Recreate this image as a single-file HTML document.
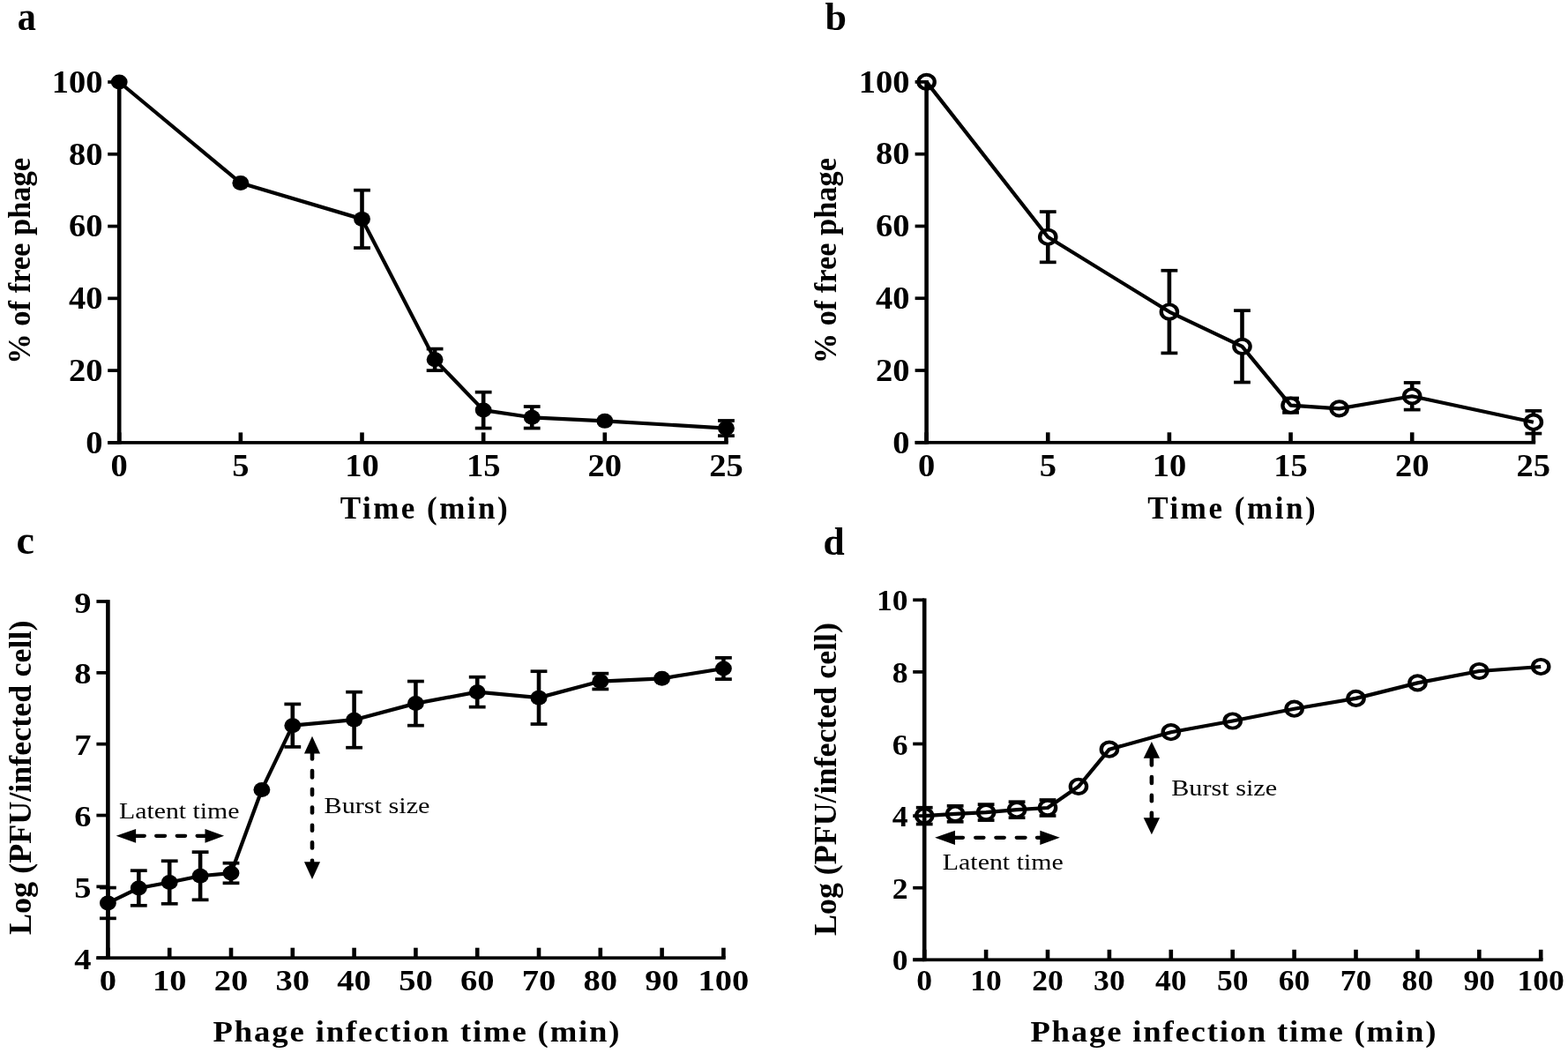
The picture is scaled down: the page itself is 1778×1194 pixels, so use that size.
<!DOCTYPE html>
<html><head><meta charset="utf-8"><title>Phage adsorption and one-step growth curves</title>
<style>
html,body{margin:0;padding:0;background:#fff;}
body{width:1778px;height:1194px;overflow:hidden;}
svg{display:block;}
text{font-family:'Liberation Serif','Times New Roman',serif;fill:#000;}
</style></head>
<body>
<svg width="1778" height="1194" viewBox="0 0 1778 1194">
<rect width="1778" height="1194" fill="#fff"/>
<g fill="#000">
<rect x="408.20" y="215.67" width="4.60" height="65.42"/>
<rect x="401.10" y="213.82" width="18.80" height="3.70"/>
<rect x="401.10" y="279.24" width="18.80" height="3.70"/>
<rect x="490.79" y="395.59" width="4.60" height="24.53"/>
<rect x="483.69" y="393.74" width="18.80" height="3.70"/>
<rect x="483.69" y="418.27" width="18.80" height="3.70"/>
<rect x="545.85" y="444.65" width="4.60" height="40.89"/>
<rect x="538.75" y="442.80" width="18.80" height="3.70"/>
<rect x="538.75" y="483.69" width="18.80" height="3.70"/>
<rect x="600.91" y="461.01" width="4.60" height="24.53"/>
<rect x="593.81" y="459.16" width="18.80" height="3.70"/>
<rect x="593.81" y="483.69" width="18.80" height="3.70"/>
<rect x="821.15" y="476.96" width="4.60" height="17.17"/>
<rect x="814.05" y="475.11" width="18.80" height="3.70"/>
<rect x="814.05" y="492.28" width="18.80" height="3.70"/>
<polyline points="135.20,93.00 272.85,207.49 410.50,248.38 493.09,407.85 548.15,465.10 603.21,473.28 685.80,477.37 823.45,485.54" fill="none" stroke="#000" stroke-width="4.2" stroke-linejoin="round"/>
<ellipse cx="135.20" cy="93.00" rx="9.45" ry="8.5"/>
<ellipse cx="272.85" cy="207.49" rx="9.45" ry="8.5"/>
<ellipse cx="410.50" cy="248.38" rx="9.45" ry="8.5"/>
<ellipse cx="493.09" cy="407.85" rx="9.45" ry="8.5"/>
<ellipse cx="548.15" cy="465.10" rx="9.45" ry="8.5"/>
<ellipse cx="603.21" cy="473.28" rx="9.45" ry="8.5"/>
<ellipse cx="685.80" cy="477.37" rx="9.45" ry="8.5"/>
<ellipse cx="823.45" cy="485.54" rx="9.45" ry="8.5"/>
<rect x="1185.95" y="240.10" width="4.60" height="57.25"/>
<rect x="1178.85" y="238.25" width="18.80" height="3.70"/>
<rect x="1178.85" y="295.50" width="18.80" height="3.70"/>
<rect x="1323.60" y="306.75" width="4.60" height="93.64"/>
<rect x="1316.50" y="304.90" width="18.80" height="3.70"/>
<rect x="1316.50" y="398.54" width="18.80" height="3.70"/>
<rect x="1406.19" y="352.14" width="4.60" height="81.37"/>
<rect x="1399.09" y="350.29" width="18.80" height="3.70"/>
<rect x="1399.09" y="431.66" width="18.80" height="3.70"/>
<rect x="1461.25" y="451.51" width="4.60" height="16.36"/>
<rect x="1454.15" y="449.66" width="18.80" height="3.70"/>
<rect x="1454.15" y="466.01" width="18.80" height="3.70"/>
<rect x="1598.90" y="433.92" width="4.60" height="30.67"/>
<rect x="1591.80" y="432.07" width="18.80" height="3.70"/>
<rect x="1591.80" y="462.74" width="18.80" height="3.70"/>
<rect x="1736.55" y="465.82" width="4.60" height="25.76"/>
<rect x="1729.45" y="463.97" width="18.80" height="3.70"/>
<rect x="1729.45" y="489.73" width="18.80" height="3.70"/>
<g transform="translate(1050.60 92.90) scale(1.12 1)"><circle r="8.15" fill="#fff" stroke="#000" stroke-width="3.9"/></g>
<g transform="translate(1188.25 268.73) scale(1.12 1)"><circle r="8.15" fill="#fff" stroke="#000" stroke-width="3.9"/></g>
<g transform="translate(1325.90 353.57) scale(1.12 1)"><circle r="8.15" fill="#fff" stroke="#000" stroke-width="3.9"/></g>
<g transform="translate(1408.49 392.83) scale(1.12 1)"><circle r="8.15" fill="#fff" stroke="#000" stroke-width="3.9"/></g>
<g transform="translate(1463.55 459.68) scale(1.12 1)"><circle r="8.15" fill="#fff" stroke="#000" stroke-width="3.9"/></g>
<g transform="translate(1518.61 463.36) scale(1.12 1)"><circle r="8.15" fill="#fff" stroke="#000" stroke-width="3.9"/></g>
<g transform="translate(1601.20 449.26) scale(1.12 1)"><circle r="8.15" fill="#fff" stroke="#000" stroke-width="3.9"/></g>
<g transform="translate(1738.85 478.70) scale(1.12 1)"><circle r="8.15" fill="#fff" stroke="#000" stroke-width="3.9"/></g>
<polyline points="1050.60,92.90 1188.25,268.73 1325.90,353.57 1408.49,392.83 1463.55,459.68 1518.61,463.36 1601.20,449.26 1738.85,478.70" fill="none" stroke="#000" stroke-width="4.2" stroke-linejoin="round"/>
<rect x="120.10" y="1006.57" width="4.60" height="34.76"/>
<rect x="113.00" y="1004.72" width="18.80" height="3.70"/>
<rect x="113.00" y="1039.48" width="18.80" height="3.70"/>
<rect x="155.00" y="987.17" width="4.60" height="39.61"/>
<rect x="147.90" y="985.32" width="18.80" height="3.70"/>
<rect x="147.90" y="1024.93" width="18.80" height="3.70"/>
<rect x="189.90" y="976.26" width="4.60" height="48.50"/>
<rect x="182.80" y="974.41" width="18.80" height="3.70"/>
<rect x="182.80" y="1022.91" width="18.80" height="3.70"/>
<rect x="224.80" y="966.15" width="4.60" height="54.16"/>
<rect x="217.70" y="964.30" width="18.80" height="3.70"/>
<rect x="217.70" y="1018.47" width="18.80" height="3.70"/>
<rect x="259.70" y="978.68" width="4.60" height="22.64"/>
<rect x="252.60" y="976.83" width="18.80" height="3.70"/>
<rect x="252.60" y="999.47" width="18.80" height="3.70"/>
<rect x="329.50" y="798.41" width="4.60" height="48.50"/>
<rect x="322.40" y="796.56" width="18.80" height="3.70"/>
<rect x="322.40" y="845.06" width="18.80" height="3.70"/>
<rect x="399.30" y="784.67" width="4.60" height="63.06"/>
<rect x="392.20" y="782.82" width="18.80" height="3.70"/>
<rect x="392.20" y="845.87" width="18.80" height="3.70"/>
<rect x="469.10" y="772.54" width="4.60" height="50.12"/>
<rect x="462.00" y="770.69" width="18.80" height="3.70"/>
<rect x="462.00" y="820.81" width="18.80" height="3.70"/>
<rect x="538.90" y="767.69" width="4.60" height="33.95"/>
<rect x="531.80" y="765.84" width="18.80" height="3.70"/>
<rect x="531.80" y="799.79" width="18.80" height="3.70"/>
<rect x="608.70" y="761.22" width="4.60" height="59.82"/>
<rect x="601.60" y="759.37" width="18.80" height="3.70"/>
<rect x="601.60" y="819.19" width="18.80" height="3.70"/>
<rect x="678.50" y="763.65" width="4.60" height="17.78"/>
<rect x="671.40" y="761.80" width="18.80" height="3.70"/>
<rect x="671.40" y="779.58" width="18.80" height="3.70"/>
<rect x="818.10" y="745.86" width="4.60" height="24.25"/>
<rect x="811.00" y="744.01" width="18.80" height="3.70"/>
<rect x="811.00" y="768.27" width="18.80" height="3.70"/>
<polyline points="122.40,1023.95 157.30,1006.98 192.20,1000.51 227.10,993.23 262.00,990.00 296.90,895.42 331.80,822.66 401.60,816.19 471.40,797.60 541.20,784.67 611.00,791.13 680.80,772.54 750.60,769.31 820.40,757.99" fill="none" stroke="#000" stroke-width="4.2" stroke-linejoin="round"/>
<ellipse cx="122.40" cy="1023.95" rx="9.45" ry="8.5"/>
<ellipse cx="157.30" cy="1006.98" rx="9.45" ry="8.5"/>
<ellipse cx="192.20" cy="1000.51" rx="9.45" ry="8.5"/>
<ellipse cx="227.10" cy="993.23" rx="9.45" ry="8.5"/>
<ellipse cx="262.00" cy="990.00" rx="9.45" ry="8.5"/>
<ellipse cx="296.90" cy="895.42" rx="9.45" ry="8.5"/>
<ellipse cx="331.80" cy="822.66" rx="9.45" ry="8.5"/>
<ellipse cx="401.60" cy="816.19" rx="9.45" ry="8.5"/>
<ellipse cx="471.40" cy="797.60" rx="9.45" ry="8.5"/>
<ellipse cx="541.20" cy="784.67" rx="9.45" ry="8.5"/>
<ellipse cx="611.00" cy="791.13" rx="9.45" ry="8.5"/>
<ellipse cx="680.80" cy="772.54" rx="9.45" ry="8.5"/>
<ellipse cx="750.60" cy="769.31" rx="9.45" ry="8.5"/>
<ellipse cx="820.40" cy="757.99" rx="9.45" ry="8.5"/>
<rect x="1045.90" y="915.72" width="4.60" height="18.77"/>
<rect x="1038.80" y="913.87" width="18.80" height="3.70"/>
<rect x="1038.80" y="932.63" width="18.80" height="3.70"/>
<rect x="1080.85" y="913.84" width="4.60" height="17.95"/>
<rect x="1073.75" y="911.99" width="18.80" height="3.70"/>
<rect x="1073.75" y="929.94" width="18.80" height="3.70"/>
<rect x="1115.80" y="912.13" width="4.60" height="17.95"/>
<rect x="1108.70" y="910.28" width="18.80" height="3.70"/>
<rect x="1108.70" y="928.23" width="18.80" height="3.70"/>
<rect x="1150.75" y="909.23" width="4.60" height="17.95"/>
<rect x="1143.65" y="907.38" width="18.80" height="3.70"/>
<rect x="1143.65" y="925.33" width="18.80" height="3.70"/>
<rect x="1185.70" y="907.03" width="4.60" height="17.95"/>
<rect x="1178.60" y="905.18" width="18.80" height="3.70"/>
<rect x="1178.60" y="923.13" width="18.80" height="3.70"/>
<g transform="translate(1048.20 925.10) scale(1.12 1)"><circle r="8.15" fill="#fff" stroke="#000" stroke-width="3.9"/></g>
<g transform="translate(1083.15 922.82) scale(1.12 1)"><circle r="8.15" fill="#fff" stroke="#000" stroke-width="3.9"/></g>
<g transform="translate(1118.10 921.10) scale(1.12 1)"><circle r="8.15" fill="#fff" stroke="#000" stroke-width="3.9"/></g>
<g transform="translate(1153.05 918.20) scale(1.12 1)"><circle r="8.15" fill="#fff" stroke="#000" stroke-width="3.9"/></g>
<g transform="translate(1188.00 916.00) scale(1.12 1)"><circle r="8.15" fill="#fff" stroke="#000" stroke-width="3.9"/></g>
<g transform="translate(1222.95 891.81) scale(1.12 1)"><circle r="8.15" fill="#fff" stroke="#000" stroke-width="3.9"/></g>
<g transform="translate(1257.90 849.70) scale(1.12 1)"><circle r="8.15" fill="#fff" stroke="#000" stroke-width="3.9"/></g>
<g transform="translate(1327.80 830.20) scale(1.12 1)"><circle r="8.15" fill="#fff" stroke="#000" stroke-width="3.9"/></g>
<g transform="translate(1397.70 817.51) scale(1.12 1)"><circle r="8.15" fill="#fff" stroke="#000" stroke-width="3.9"/></g>
<g transform="translate(1467.60 803.72) scale(1.12 1)"><circle r="8.15" fill="#fff" stroke="#000" stroke-width="3.9"/></g>
<g transform="translate(1537.50 791.89) scale(1.12 1)"><circle r="8.15" fill="#fff" stroke="#000" stroke-width="3.9"/></g>
<g transform="translate(1607.40 774.38) scale(1.12 1)"><circle r="8.15" fill="#fff" stroke="#000" stroke-width="3.9"/></g>
<g transform="translate(1677.30 761.00) scale(1.12 1)"><circle r="8.15" fill="#fff" stroke="#000" stroke-width="3.9"/></g>
<g transform="translate(1747.20 755.98) scale(1.12 1)"><circle r="8.15" fill="#fff" stroke="#000" stroke-width="3.9"/></g>
<polyline points="1048.20,925.10 1083.15,922.82 1118.10,921.10 1153.05,918.20 1188.00,916.00 1222.95,891.81 1257.90,849.70 1327.80,830.20 1397.70,817.51 1467.60,803.72 1537.50,791.89 1607.40,774.38 1677.30,761.00 1747.20,755.98" fill="none" stroke="#000" stroke-width="4.2" stroke-linejoin="round"/>
<rect x="132.90" y="91.15" width="4.60" height="412.60"/>
<rect x="122.20" y="500.05" width="13.00" height="3.70"/>
<rect x="122.20" y="418.27" width="13.00" height="3.70"/>
<rect x="122.20" y="336.49" width="13.00" height="3.70"/>
<rect x="122.20" y="254.71" width="13.00" height="3.70"/>
<rect x="122.20" y="172.93" width="13.00" height="3.70"/>
<rect x="122.20" y="91.15" width="13.00" height="3.70"/>
<rect x="122.20" y="500.05" width="703.55" height="3.70"/>
<rect x="132.90" y="490.40" width="4.60" height="11.50"/>
<rect x="270.55" y="490.40" width="4.60" height="11.50"/>
<rect x="408.20" y="490.40" width="4.60" height="11.50"/>
<rect x="545.85" y="490.40" width="4.60" height="11.50"/>
<rect x="683.50" y="490.40" width="4.60" height="11.50"/>
<rect x="821.15" y="490.40" width="4.60" height="11.50"/>
<text transform="translate(116.60 513.70) scale(1.1 1)" font-size="35" font-weight="bold" text-anchor="end">0</text>
<text transform="translate(116.60 431.92) scale(1.1 1)" font-size="35" font-weight="bold" text-anchor="end">20</text>
<text transform="translate(116.60 350.14) scale(1.1 1)" font-size="35" font-weight="bold" text-anchor="end">40</text>
<text transform="translate(116.60 268.36) scale(1.1 1)" font-size="35" font-weight="bold" text-anchor="end">60</text>
<text transform="translate(116.60 186.58) scale(1.1 1)" font-size="35" font-weight="bold" text-anchor="end">80</text>
<text transform="translate(116.60 104.80) scale(1.1 1)" font-size="35" font-weight="bold" text-anchor="end">100</text>
<text transform="translate(135.20 539.50) scale(1.1 1)" font-size="35" font-weight="bold" text-anchor="middle">0</text>
<text transform="translate(272.85 539.50) scale(1.1 1)" font-size="35" font-weight="bold" text-anchor="middle">5</text>
<text transform="translate(410.50 539.50) scale(1.1 1)" font-size="35" font-weight="bold" text-anchor="middle">10</text>
<text transform="translate(548.15 539.50) scale(1.1 1)" font-size="35" font-weight="bold" text-anchor="middle">15</text>
<text transform="translate(685.80 539.50) scale(1.1 1)" font-size="35" font-weight="bold" text-anchor="middle">20</text>
<text transform="translate(823.45 539.50) scale(1.1 1)" font-size="35" font-weight="bold" text-anchor="middle">25</text>
<rect x="1048.30" y="91.05" width="4.60" height="412.60"/>
<rect x="1037.60" y="499.95" width="13.00" height="3.70"/>
<rect x="1037.60" y="418.17" width="13.00" height="3.70"/>
<rect x="1037.60" y="336.39" width="13.00" height="3.70"/>
<rect x="1037.60" y="254.61" width="13.00" height="3.70"/>
<rect x="1037.60" y="172.83" width="13.00" height="3.70"/>
<rect x="1037.60" y="91.05" width="13.00" height="3.70"/>
<rect x="1037.60" y="499.95" width="703.55" height="3.70"/>
<rect x="1048.30" y="490.30" width="4.60" height="11.50"/>
<rect x="1185.95" y="490.30" width="4.60" height="11.50"/>
<rect x="1323.60" y="490.30" width="4.60" height="11.50"/>
<rect x="1461.25" y="490.30" width="4.60" height="11.50"/>
<rect x="1598.90" y="490.30" width="4.60" height="11.50"/>
<rect x="1736.55" y="490.30" width="4.60" height="11.50"/>
<text transform="translate(1031.60 513.60) scale(1.1 1)" font-size="35" font-weight="bold" text-anchor="end">0</text>
<text transform="translate(1031.60 431.82) scale(1.1 1)" font-size="35" font-weight="bold" text-anchor="end">20</text>
<text transform="translate(1031.60 350.04) scale(1.1 1)" font-size="35" font-weight="bold" text-anchor="end">40</text>
<text transform="translate(1031.60 268.26) scale(1.1 1)" font-size="35" font-weight="bold" text-anchor="end">60</text>
<text transform="translate(1031.60 186.48) scale(1.1 1)" font-size="35" font-weight="bold" text-anchor="end">80</text>
<text transform="translate(1031.60 104.70) scale(1.1 1)" font-size="35" font-weight="bold" text-anchor="end">100</text>
<text transform="translate(1050.60 539.50) scale(1.1 1)" font-size="35" font-weight="bold" text-anchor="middle">0</text>
<text transform="translate(1188.25 539.50) scale(1.1 1)" font-size="35" font-weight="bold" text-anchor="middle">5</text>
<text transform="translate(1325.90 539.50) scale(1.1 1)" font-size="35" font-weight="bold" text-anchor="middle">10</text>
<text transform="translate(1463.55 539.50) scale(1.1 1)" font-size="35" font-weight="bold" text-anchor="middle">15</text>
<text transform="translate(1601.20 539.50) scale(1.1 1)" font-size="35" font-weight="bold" text-anchor="middle">20</text>
<text transform="translate(1738.85 539.50) scale(1.1 1)" font-size="35" font-weight="bold" text-anchor="middle">25</text>
<rect x="120.10" y="680.15" width="4.60" height="407.90"/>
<rect x="109.40" y="1084.35" width="13.00" height="3.70"/>
<rect x="109.40" y="1003.51" width="13.00" height="3.70"/>
<rect x="109.40" y="922.67" width="13.00" height="3.70"/>
<rect x="109.40" y="841.83" width="13.00" height="3.70"/>
<rect x="109.40" y="760.99" width="13.00" height="3.70"/>
<rect x="109.40" y="680.15" width="13.00" height="3.70"/>
<rect x="109.40" y="1084.35" width="713.30" height="3.70"/>
<rect x="120.10" y="1074.70" width="4.60" height="11.50"/>
<rect x="189.90" y="1074.70" width="4.60" height="11.50"/>
<rect x="259.70" y="1074.70" width="4.60" height="11.50"/>
<rect x="329.50" y="1074.70" width="4.60" height="11.50"/>
<rect x="399.30" y="1074.70" width="4.60" height="11.50"/>
<rect x="469.10" y="1074.70" width="4.60" height="11.50"/>
<rect x="538.90" y="1074.70" width="4.60" height="11.50"/>
<rect x="608.70" y="1074.70" width="4.60" height="11.50"/>
<rect x="678.50" y="1074.70" width="4.60" height="11.50"/>
<rect x="748.30" y="1074.70" width="4.60" height="11.50"/>
<rect x="818.10" y="1074.70" width="4.60" height="11.50"/>
<text transform="translate(103.60 1098.80) scale(1.15 1)" font-size="33.5" font-weight="bold" text-anchor="end">4</text>
<text transform="translate(103.60 1017.96) scale(1.15 1)" font-size="33.5" font-weight="bold" text-anchor="end">5</text>
<text transform="translate(103.60 937.12) scale(1.15 1)" font-size="33.5" font-weight="bold" text-anchor="end">6</text>
<text transform="translate(103.60 856.28) scale(1.15 1)" font-size="33.5" font-weight="bold" text-anchor="end">7</text>
<text transform="translate(103.60 775.44) scale(1.15 1)" font-size="33.5" font-weight="bold" text-anchor="end">8</text>
<text transform="translate(103.60 694.60) scale(1.15 1)" font-size="33.5" font-weight="bold" text-anchor="end">9</text>
<text transform="translate(122.40 1123.00) scale(1.15 1)" font-size="33.5" font-weight="bold" text-anchor="middle">0</text>
<text transform="translate(192.20 1123.00) scale(1.15 1)" font-size="33.5" font-weight="bold" text-anchor="middle">10</text>
<text transform="translate(262.00 1123.00) scale(1.15 1)" font-size="33.5" font-weight="bold" text-anchor="middle">20</text>
<text transform="translate(331.80 1123.00) scale(1.15 1)" font-size="33.5" font-weight="bold" text-anchor="middle">30</text>
<text transform="translate(401.60 1123.00) scale(1.15 1)" font-size="33.5" font-weight="bold" text-anchor="middle">40</text>
<text transform="translate(471.40 1123.00) scale(1.15 1)" font-size="33.5" font-weight="bold" text-anchor="middle">50</text>
<text transform="translate(541.20 1123.00) scale(1.15 1)" font-size="33.5" font-weight="bold" text-anchor="middle">60</text>
<text transform="translate(611.00 1123.00) scale(1.15 1)" font-size="33.5" font-weight="bold" text-anchor="middle">70</text>
<text transform="translate(680.80 1123.00) scale(1.15 1)" font-size="33.5" font-weight="bold" text-anchor="middle">80</text>
<text transform="translate(750.60 1123.00) scale(1.15 1)" font-size="33.5" font-weight="bold" text-anchor="middle">90</text>
<text transform="translate(820.40 1123.00) scale(1.15 1)" font-size="33.5" font-weight="bold" text-anchor="middle">100</text>
<rect x="1045.90" y="678.45" width="4.60" height="411.70"/>
<rect x="1035.20" y="1086.45" width="13.00" height="3.70"/>
<rect x="1035.20" y="1004.85" width="13.00" height="3.70"/>
<rect x="1035.20" y="923.25" width="13.00" height="3.70"/>
<rect x="1035.20" y="841.65" width="13.00" height="3.70"/>
<rect x="1035.20" y="760.05" width="13.00" height="3.70"/>
<rect x="1035.20" y="678.45" width="13.00" height="3.70"/>
<rect x="1035.20" y="1086.45" width="714.30" height="3.70"/>
<rect x="1045.90" y="1076.80" width="4.60" height="11.50"/>
<rect x="1115.80" y="1076.80" width="4.60" height="11.50"/>
<rect x="1185.70" y="1076.80" width="4.60" height="11.50"/>
<rect x="1255.60" y="1076.80" width="4.60" height="11.50"/>
<rect x="1325.50" y="1076.80" width="4.60" height="11.50"/>
<rect x="1395.40" y="1076.80" width="4.60" height="11.50"/>
<rect x="1465.30" y="1076.80" width="4.60" height="11.50"/>
<rect x="1535.20" y="1076.80" width="4.60" height="11.50"/>
<rect x="1605.10" y="1076.80" width="4.60" height="11.50"/>
<rect x="1675.00" y="1076.80" width="4.60" height="11.50"/>
<rect x="1744.90" y="1076.80" width="4.60" height="11.50"/>
<text transform="translate(1029.60 1100.30) scale(1.07 1)" font-size="33.3" font-weight="bold" text-anchor="end">0</text>
<text transform="translate(1029.60 1018.70) scale(1.07 1)" font-size="33.3" font-weight="bold" text-anchor="end">2</text>
<text transform="translate(1029.60 937.10) scale(1.07 1)" font-size="33.3" font-weight="bold" text-anchor="end">4</text>
<text transform="translate(1029.60 855.50) scale(1.07 1)" font-size="33.3" font-weight="bold" text-anchor="end">6</text>
<text transform="translate(1029.60 773.90) scale(1.07 1)" font-size="33.3" font-weight="bold" text-anchor="end">8</text>
<text transform="translate(1029.60 692.30) scale(1.07 1)" font-size="33.3" font-weight="bold" text-anchor="end">10</text>
<text transform="translate(1048.20 1123.00) scale(1.07 1)" font-size="33.3" font-weight="bold" text-anchor="middle">0</text>
<text transform="translate(1118.10 1123.00) scale(1.07 1)" font-size="33.3" font-weight="bold" text-anchor="middle">10</text>
<text transform="translate(1188.00 1123.00) scale(1.07 1)" font-size="33.3" font-weight="bold" text-anchor="middle">20</text>
<text transform="translate(1257.90 1123.00) scale(1.07 1)" font-size="33.3" font-weight="bold" text-anchor="middle">30</text>
<text transform="translate(1327.80 1123.00) scale(1.07 1)" font-size="33.3" font-weight="bold" text-anchor="middle">40</text>
<text transform="translate(1397.70 1123.00) scale(1.07 1)" font-size="33.3" font-weight="bold" text-anchor="middle">50</text>
<text transform="translate(1467.60 1123.00) scale(1.07 1)" font-size="33.3" font-weight="bold" text-anchor="middle">60</text>
<text transform="translate(1537.50 1123.00) scale(1.07 1)" font-size="33.3" font-weight="bold" text-anchor="middle">70</text>
<text transform="translate(1607.40 1123.00) scale(1.07 1)" font-size="33.3" font-weight="bold" text-anchor="middle">80</text>
<text transform="translate(1677.30 1123.00) scale(1.07 1)" font-size="33.3" font-weight="bold" text-anchor="middle">90</text>
<text transform="translate(1747.20 1123.00) scale(1.07 1)" font-size="33.3" font-weight="bold" text-anchor="middle">100</text>
<text transform="translate(19.80 33.60) scale(0.92 1)" font-size="46" font-weight="bold">a</text>
<text x="935.50" y="33.50" font-size="44" font-weight="bold">b</text>
<text x="18.60" y="628.30" font-size="46" font-weight="bold">c</text>
<text x="933.40" y="629.20" font-size="43.5" font-weight="bold">d</text>
<text transform="translate(385.80 588.00) scale(1.0 1)" font-size="35" font-weight="bold" textLength="189.80" lengthAdjust="spacing">Time (min)</text>
<text transform="translate(1301.20 588.00) scale(1.0 1)" font-size="35" font-weight="bold" textLength="190.50" lengthAdjust="spacing">Time (min)</text>
<text transform="translate(241.60 1181.00) scale(1.08 1)" font-size="34" font-weight="bold" textLength="426.85" lengthAdjust="spacing">Phage infection time (min)</text>
<text transform="translate(1168.40 1181.00) scale(1.08 1)" font-size="34" font-weight="bold" textLength="425.93" lengthAdjust="spacing">Phage infection time (min)</text>
<text x="34.20" y="412.70" font-size="36.5" font-weight="bold" textLength="233.80" lengthAdjust="spacingAndGlyphs" transform="rotate(-90 34.20 412.70)">% of free phage</text>
<text x="948.00" y="412.30" font-size="36.5" font-weight="bold" textLength="233.20" lengthAdjust="spacingAndGlyphs" transform="rotate(-90 948.00 412.30)">% of free phage</text>
<text x="35.30" y="1060.00" font-size="36" font-weight="bold" textLength="356.50" lengthAdjust="spacingAndGlyphs" transform="rotate(-90 35.30 1060.00)">Log (PFU/infected cell)</text>
<text x="948.00" y="1061.00" font-size="36" font-weight="bold" textLength="355.00" lengthAdjust="spacingAndGlyphs" transform="rotate(-90 948.00 1061.00)">Log (PFU/infected cell)</text>
<text x="135.00" y="928.00" font-size="25" font-weight="normal" textLength="136.50" lengthAdjust="spacingAndGlyphs">Latent time</text>
<text x="367.50" y="921.80" font-size="25" font-weight="normal" textLength="120.00" lengthAdjust="spacingAndGlyphs">Burst size</text>
<text x="1068.80" y="986.40" font-size="25" font-weight="normal" textLength="137.00" lengthAdjust="spacingAndGlyphs">Latent time</text>
<text x="1328.20" y="902.20" font-size="25" font-weight="normal" textLength="120.00" lengthAdjust="spacingAndGlyphs">Burst size</text>
</g>
<g fill="#000">
<polygon points="131.70,947.80 154.10,939.95 154.10,955.65"/>
<polygon points="254.10,947.80 232.50,939.95 232.50,955.65"/>
<rect x="150.00" y="945.65" width="15.90" height="4.30" rx="2.15"/>
<rect x="175.00" y="945.65" width="14.20" height="4.30" rx="2.15"/>
<rect x="198.60" y="945.65" width="13.60" height="4.30" rx="2.15"/>
<rect x="221.50" y="945.65" width="14.50" height="4.30" rx="2.15"/>
<polygon points="1060.10,949.80 1083.00,941.65 1083.00,957.95"/>
<polygon points="1201.80,949.80 1179.30,941.65 1179.30,957.95"/>
<rect x="1079.00" y="947.65" width="15.10" height="4.30" rx="2.15"/>
<rect x="1104.00" y="947.65" width="13.60" height="4.30" rx="2.15"/>
<rect x="1127.20" y="947.65" width="13.70" height="4.30" rx="2.15"/>
<rect x="1150.60" y="947.65" width="14.10" height="4.30" rx="2.15"/>
<rect x="1173.80" y="947.65" width="9.20" height="4.30" rx="2.15"/>
<polygon points="354.00,834.80 344.95,854.40 363.05,854.40"/>
<polygon points="354.00,996.90 344.95,977.30 363.05,977.30"/>
<rect x="351.70" y="850.00" width="4.60" height="12.70" rx="2.30"/>
<rect x="351.70" y="871.70" width="4.60" height="12.10" rx="2.30"/>
<rect x="351.70" y="892.80" width="4.60" height="10.60" rx="2.30"/>
<rect x="351.70" y="913.20" width="4.60" height="10.50" rx="2.30"/>
<rect x="351.70" y="933.50" width="4.60" height="10.60" rx="2.30"/>
<rect x="351.70" y="953.10" width="4.60" height="10.60" rx="2.30"/>
<rect x="351.70" y="973.50" width="4.60" height="7.50" rx="2.30"/>
<polygon points="1305.90,841.00 1296.70,859.80 1315.10,859.80"/>
<polygon points="1305.90,946.20 1296.70,927.30 1315.10,927.30"/>
<rect x="1303.60" y="855.00" width="4.60" height="14.80" rx="2.30"/>
<rect x="1303.60" y="878.70" width="4.60" height="11.50" rx="2.30"/>
<rect x="1303.60" y="899.60" width="4.60" height="11.00" rx="2.30"/>
<rect x="1303.60" y="919.50" width="4.60" height="11.50" rx="2.30"/>
</g>
</svg>
</body></html>
